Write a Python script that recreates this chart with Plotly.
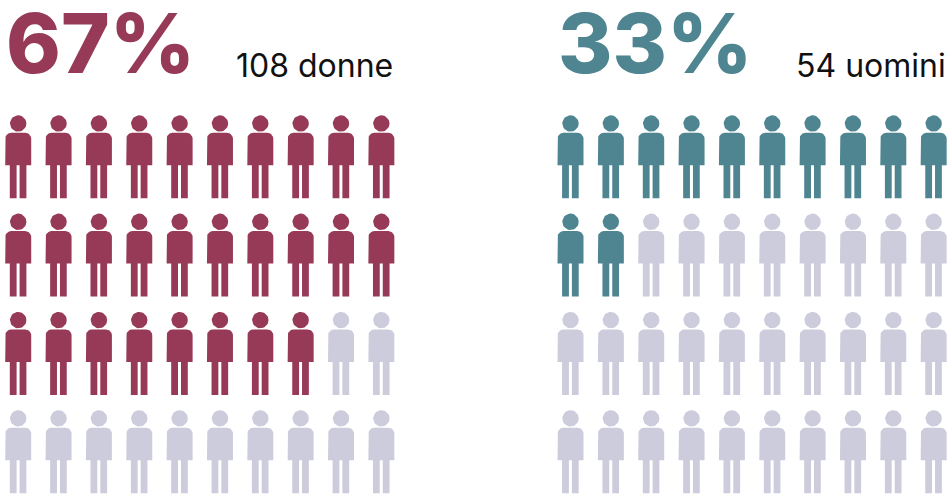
import math
import plotly.graph_objects as go

groups = ["donne", "uomini"]
percent_labels = ["67%", "33%"]
count_labels = ["108 donne", "54 uomini"]
filled_icons = [28, 12]
icons_per_block = 40
icons_per_row = 10
colors = ["#963A58", "#4E8591"]
empty_color = "#CDCCDC"

W, H = 949, 494
block_x = [5.2, 557.5]
top_y = 115.3
pitch_x = 40.35
pitch_y = 98.3
pct_x = [4, 556]
count_right = [394.5, 948]


def icon(x, y):
    xs, ys = [], []
    cx, cy, r = 13.0, 8.2, 8.2
    for i in range(37):
        a = 2 * math.pi * i / 36
        xs.append(x + cx + r * math.cos(a))
        ys.append(y + cy + r * math.sin(a))
    xs.append(None); ys.append(None)
    R = 6.0
    body = [(0, 50), (0, 17.5 + R)]
    for i in range(0, 10):
        a = math.pi + (math.pi / 2) * i / 9
        body.append((R + R * math.cos(a), 17.5 + R + R * math.sin(a)))
    for i in range(0, 10):
        a = 1.5 * math.pi + (math.pi / 2) * i / 9
        body.append((26.0 - R + R * math.cos(a), 17.5 + R + R * math.sin(a)))
    body += [(26.0, 50), (0, 50)]
    for px, py in body:
        xs.append(x + px); ys.append(y + py)
    xs.append(None); ys.append(None)
    for lx0, lx1 in [(4.6, 11.4), (14.4, 21.2)]:
        for px, py in [(lx0, 49.5), (lx1, 49.5), (lx1, 83), (lx0, 83), (lx0, 49.5)]:
            xs.append(x + px); ys.append(y + py)
        xs.append(None); ys.append(None)
    return xs, ys


fig = go.Figure()
for g, name in enumerate(groups):
    on_x, on_y, off_x, off_y = [], [], [], []
    for i in range(icons_per_block):
        row, col = divmod(i, icons_per_row)
        xs, ys = icon(block_x[g] + col * pitch_x, top_y + row * pitch_y)
        if i < filled_icons[g]:
            on_x += xs; on_y += ys
        else:
            off_x += xs; off_y += ys
    for xs, ys, c in [(off_x, off_y, empty_color), (on_x, on_y, colors[g])]:
        fig.add_trace(go.Scatter(x=xs, y=ys, mode="lines", fill="toself", fillcolor=c,
                                 line=dict(width=0, color=c), hoverinfo="skip", name=name))
    fig.add_annotation(x=pct_x[g], y=95, text=percent_labels[g], xanchor="left", yanchor="bottom",
                       showarrow=False, font=dict(family="Inter", size=83, weight=800, color=colors[g]))
    fig.add_annotation(x=count_right[g], y=87, text=count_labels[g], xanchor="right", yanchor="bottom",
                       showarrow=False, font=dict(family="Inter", size=32, color="#111111"))

fig.update_layout(width=W, height=H, margin=dict(l=0, r=0, t=0, b=0), showlegend=False,
                  paper_bgcolor="white", plot_bgcolor="white",
                  xaxis=dict(range=[0, W], visible=False, fixedrange=True),
                  yaxis=dict(range=[H, 0], visible=False, fixedrange=True))
fig.write_html("out.html", config=dict(displayModeBar=False),
               post_script="document.body.style.margin='0';document.documentElement.style.overflow='hidden';")
